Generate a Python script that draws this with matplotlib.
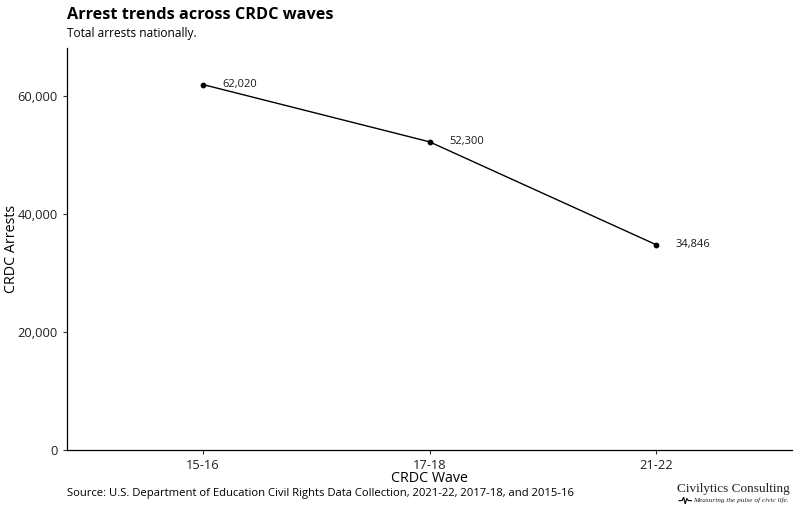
import matplotlib
matplotlib.use("Agg")
import matplotlib.pyplot as plt
from matplotlib.ticker import FuncFormatter

waves = ["15-16", "17-18", "21-22"]
arrests = [62020, 52300, 34846]
yticks = [0, 20000, 40000, 60000]

plt.rcParams['font.family'] = ['Open Sans', 'DejaVu Sans']

fig = plt.figure(figsize=(8, 5.09), dpi=100)
ax = fig.add_axes([0.08375, 0.1159, 0.90625, 0.7898])
x = list(range(1, len(waves) + 1))
ax.plot(x, arrests, color='black', lw=1.0)
ax.scatter(x, arrests, color='black', s=10, zorder=3)
for xi, v in zip(x, arrests):
    ax.annotate(f"{v:,}", (xi, v), xytext=(14, 0), textcoords='offset points',
                va='center', ha='left', fontsize=8, color='#1a1a1a')
ax.set_xlim(0.4, len(waves) + 0.6)
ax.set_ylim(0, max(arrests) * 1.1)
ax.set_xticks(x)
ax.set_xticklabels(waves)
ax.set_yticks(yticks)
ax.yaxis.set_major_formatter(FuncFormatter(lambda v, p: f"{int(v):,}"))
for s in ['top', 'right']:
    ax.spines[s].set_visible(False)
for s in ['left', 'bottom']:
    ax.spines[s].set_linewidth(0.9)
ax.tick_params(labelsize=9.3, colors='#333333', length=3, width=0.8)
ax.tick_params(labelcolor='#222222')
ax.set_xlabel("CRDC Wave", fontsize=10.3)
ax.set_ylabel("CRDC Arrests", fontsize=10.3)
ax.xaxis.set_label_coords(0.5, -0.052)
ax.yaxis.set_label_coords(-0.066, 0.5)

fig.text(0.08375, 0.970, "Arrest trends across CRDC waves", fontsize=11.7,
         fontweight='bold', ha='left', va='center')
fig.text(0.08375, 0.935, "Total arrests nationally.", fontsize=8.6,
         ha='left', va='center')
fig.text(0.08375, 0.0295, "Source: U.S. Department of Education Civil Rights Data Collection, 2021-22, 2017-18, and 2015-16",
         fontsize=8.1, ha='left', va='center')
fig.text(0.9875, 0.039, "Civilytics Consulting", fontsize=9.5,
         family=['Liberation Serif', 'DejaVu Serif'], ha='right', va='center', color='#222222')
fig.text(0.986, 0.0165, "Measuring the pulse of civic life.", fontsize=5.2,
         family=['Liberation Serif', 'DejaVu Serif'], style='italic', ha='right', va='center', color='#222222')
# small pulse icon
icon = fig.add_axes([0.848, 0.009, 0.017, 0.015])
icon.plot([0, 1, 1.5, 2, 2.5, 3, 4], [0, 0, 1, -1, 0.6, 0, 0], color='black', lw=0.8)
icon.axis('off')

fig.savefig("out.png", dpi=100)
